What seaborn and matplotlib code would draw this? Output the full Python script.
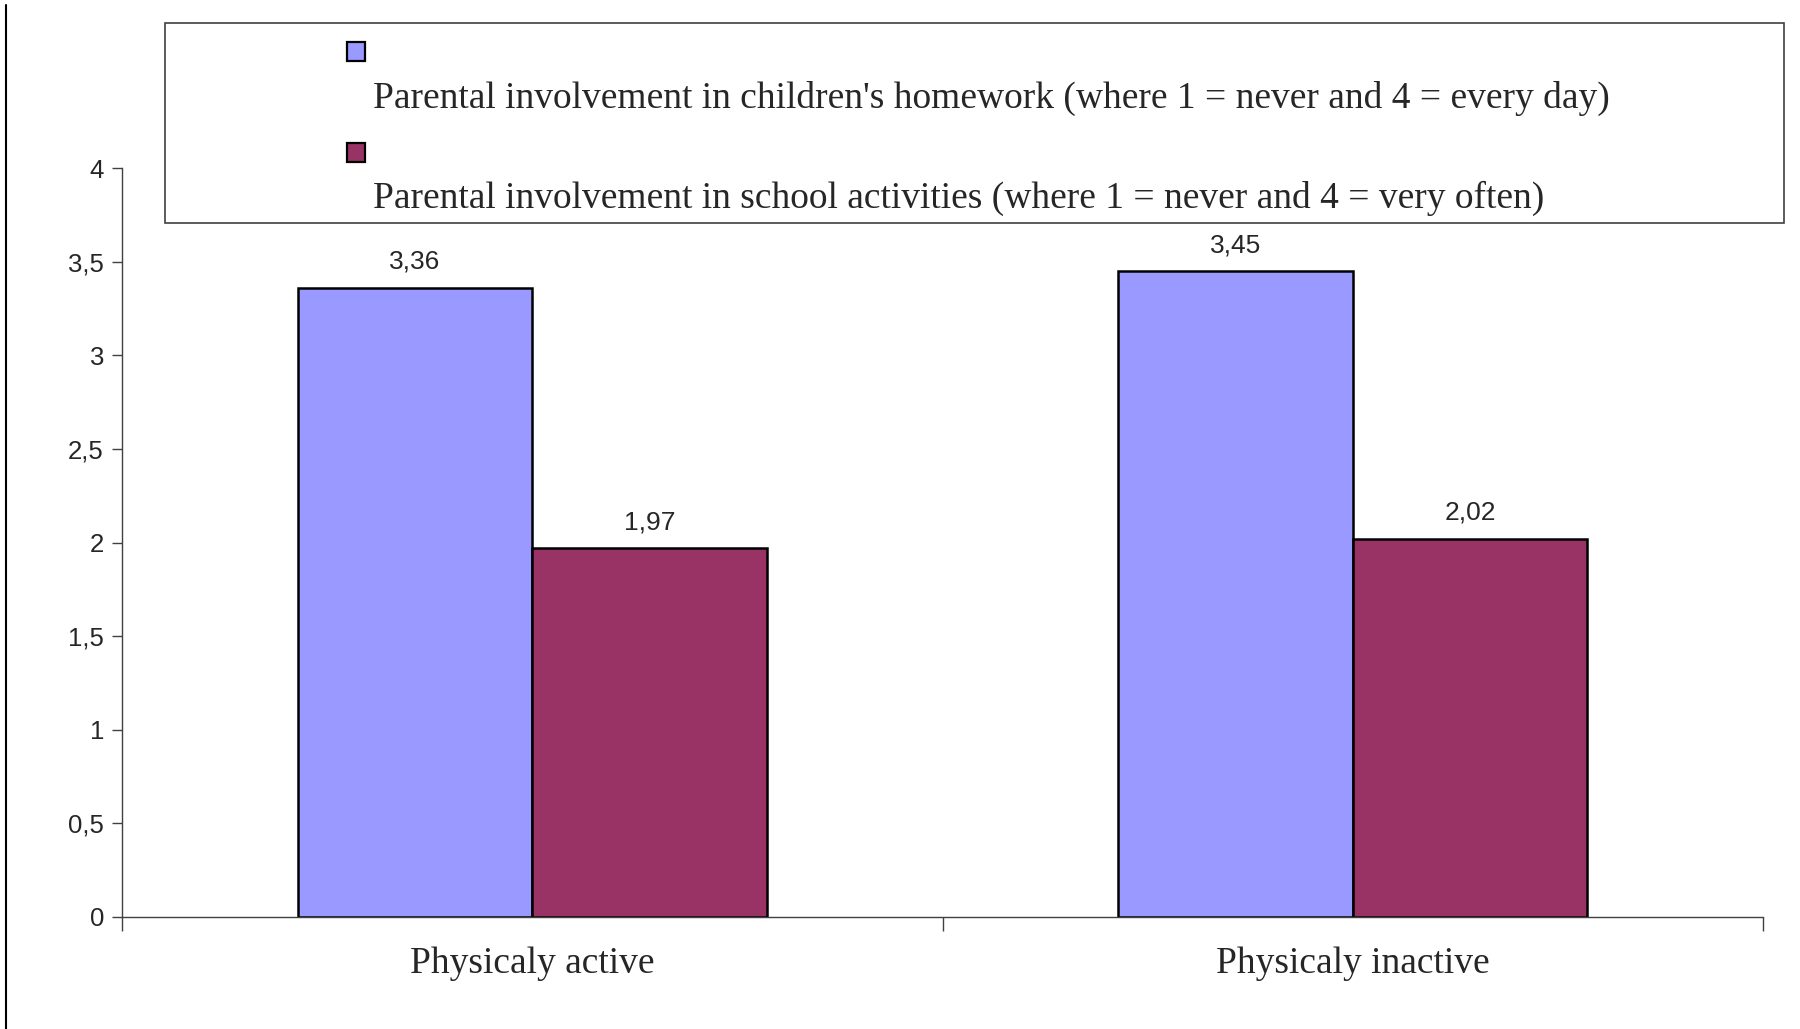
import matplotlib
matplotlib.use("Agg")
import matplotlib.pyplot as plt
import seaborn as sns
import pandas as pd
from matplotlib.patches import Rectangle
from matplotlib.lines import Line2D

categories = ["Physicaly active", "Physicaly inactive"]
series_names = [
    "Parental involvement in children's homework (where 1 = never and 4 = every day)",
    "Parental involvement in school activities (where 1 = never and 4 = very often)",
]
homework = [3.36, 3.45]
school = [1.97, 2.02]
colors = ["#9999FF", "#993366"]
yticks = [0, 0.5, 1, 1.5, 2, 2.5, 3, 3.5, 4]
ytick_labels = ["0", "0,5", "1", "1,5", "2", "2,5", "3", "3,5", "4"]

df = pd.DataFrame({
    "category": categories * 2,
    "series": [series_names[0]] * 2 + [series_names[1]] * 2,
    "value": homework + school,
})

sns.set_style("white")
W, H = 1800, 1029
fig = plt.figure(figsize=(W / 100, H / 100), dpi=100)
ax = fig.add_axes([122 / W, 1 - 917 / H, (1763 - 122) / W, (917 - 168) / H])

sns.barplot(data=df, x="category", y="value", hue="series", order=categories,
            hue_order=series_names, palette=colors, width=0.572, gap=0,
            edgecolor="black", linewidth=1.8, saturation=1, legend=False, ax=ax)

ax.set_xlim(-0.5, 1.5)
ax.set_ylim(0, 4)
ax.set_xlabel("")
ax.set_ylabel("")

for s in ["top", "right"]:
    ax.spines[s].set_visible(False)
for s in ["left", "bottom"]:
    ax.spines[s].set_color("#404040")
    ax.spines[s].set_linewidth(1.0)

ax.set_yticks(yticks)
ax.set_yticklabels(ytick_labels, fontfamily="Liberation Sans", fontsize=18.5)
ax.tick_params(axis="y", left=True, direction="out", length=7, width=1, color="#404040", pad=6)

# category labels, major ticks at boundaries
ax.set_xticks([-0.5, 0.5, 1.5])
ax.set_xticklabels([])
ax.set_xticks([0, 1], minor=True)
ax.set_xticklabels(categories, minor=True, fontfamily="Liberation Serif", fontsize=27)
ax.tick_params(axis="x", which="major", bottom=True, direction="out", length=10, width=1, color="#404040")
ax.tick_params(axis="x", which="minor", bottom=True, length=0, pad=21)

# value labels
for cont in ax.containers:
    ax.bar_label(cont, labels=[f"{v:.2f}".replace(".", ",") for v in cont.datavalues],
                 padding=10, fontfamily="Liberation Sans", fontsize=19)

# legend box drawn in figure coordinates
fig.patches.append(Rectangle((165 / W, 1 - 223 / H), (1784 - 165) / W, (223 - 23) / H,
                             transform=fig.transFigure, fill=False, edgecolor="#404040",
                             linewidth=1.2))
marker_tops = [42, 143]
baselines = [108, 208]
for c, name, mt, bl in zip(colors, series_names, marker_tops, baselines):
    fig.patches.append(Rectangle((347 / W, 1 - (mt + 19) / H), 18 / W, 19 / H,
                                 transform=fig.transFigure, facecolor=c,
                                 edgecolor="black", linewidth=1.6))
    fig.text(373 / W, 1 - bl / H, name, fontfamily="Liberation Serif", fontsize=27,
             va="baseline", ha="left")

# left border line
fig.lines.append(Line2D([6 / W, 6 / W], [0, 1 - 5 / H], transform=fig.transFigure,
                        color="black", linewidth=1.5))

fig.savefig("out.png", dpi=100)
